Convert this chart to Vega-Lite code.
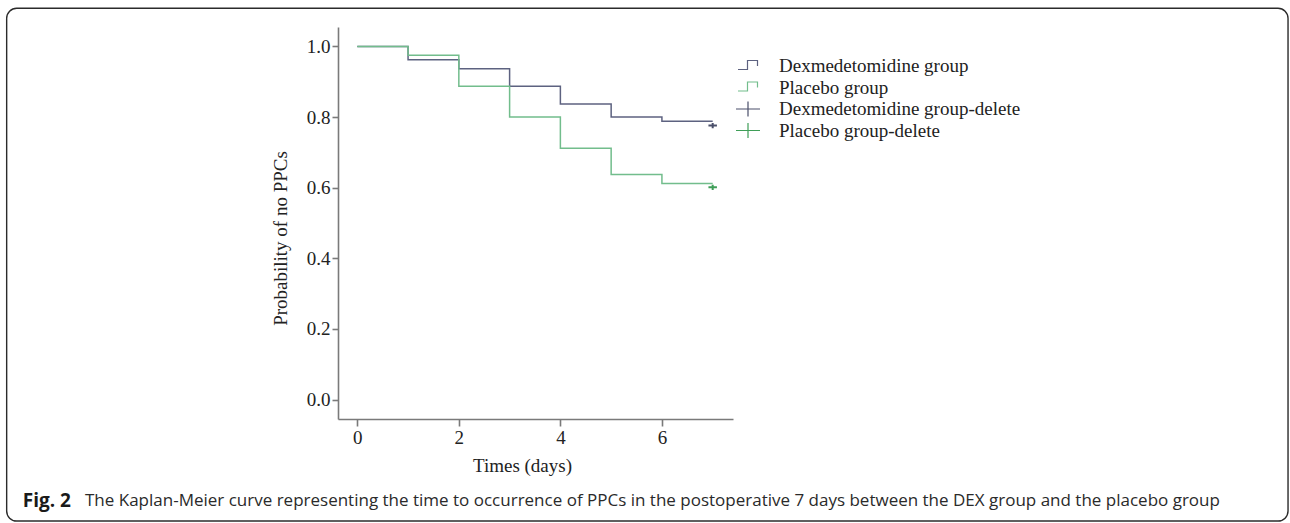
{
  "$schema": "https://vega.github.io/schema/vega-lite/v6.json",
  "width": 395,
  "height": 392,
  "autosize": "none",
  "padding": {"left": 338, "top": 27, "right": 557, "bottom": 104},
  "background": "white",
  "config": {
    "view": {"stroke": null},
    "font": "Liberation Serif",
    "legend": {
      "title": null, "orient": "none", "legendX": 399, "legendY": 28,
      "symbolSize": 400, "symbolStrokeWidth": 1.2, "symbolFillColor": "transparent",
      "labelFont": "Liberation Serif", "labelFontSize": 19, "labelColor": "#222", "labelLimit": 400,
      "labelOffset": 20, "rowPadding": 0.5, "padding": 0
    }
  },
  "datasets": {
    "km": [
      {"series": "Dexmedetomidine group", "time": 0, "surv": 1.0},
      {"series": "Dexmedetomidine group", "time": 1, "surv": 0.962},
      {"series": "Dexmedetomidine group", "time": 2, "surv": 0.937},
      {"series": "Dexmedetomidine group", "time": 3, "surv": 0.887},
      {"series": "Dexmedetomidine group", "time": 4, "surv": 0.837},
      {"series": "Dexmedetomidine group", "time": 5, "surv": 0.8},
      {"series": "Dexmedetomidine group", "time": 6, "surv": 0.788},
      {"series": "Dexmedetomidine group", "time": 7, "surv": 0.788},
      {"series": "Placebo group", "time": 0, "surv": 1.0},
      {"series": "Placebo group", "time": 1, "surv": 0.975},
      {"series": "Placebo group", "time": 2, "surv": 0.887},
      {"series": "Placebo group", "time": 3, "surv": 0.8},
      {"series": "Placebo group", "time": 4, "surv": 0.712},
      {"series": "Placebo group", "time": 5, "surv": 0.637},
      {"series": "Placebo group", "time": 6, "surv": 0.612},
      {"series": "Placebo group", "time": 7, "surv": 0.612}
    ],
    "censor": [
      {"series": "Dexmedetomidine group-delete", "time": 7, "surv": 0.776},
      {"series": "Placebo group-delete", "time": 7, "surv": 0.601}
    ]
  },
  "layer": [
    {
      "data": {"values": [{}]},
      "mark": {"type": "rect", "fill": null, "stroke": "#2b2b2b", "strokeWidth": 1.4, "cornerRadius": 10, "clip": false},
      "encoding": {
        "x": {"datum": -6.906, "type": "quantitative", "scale": {"domain": [-0.38, 7.4], "nice": false, "zero": false}},
        "x2": {"datum": 18.332},
        "y": {"datum": 1.108, "type": "quantitative", "scale": {"domain": [-0.055, 1.055], "nice": false, "zero": false}},
        "y2": {"datum": -0.344}
      }
    },
    {
      "data": {"name": "km"},
      "mark": {"type": "line", "interpolate": "step-after", "strokeWidth": 1.5},
      "encoding": {
        "x": {
          "field": "time", "type": "quantitative",
          "scale": {"domain": [-0.38, 7.4], "nice": false, "zero": false},
          "axis": {
            "values": [0, 2, 4, 6], "format": "d", "grid": false,
            "title": "Times (days)",
            "titleFont": "Liberation Serif", "titleFontSize": 19, "titleFontWeight": "normal", "titleColor": "#222",
            "titleX": 184, "titleY": 52, "titleBaseline": "alphabetic", "titleAlign": "center",
            "labelFont": "Liberation Serif", "labelFontSize": 19, "labelColor": "#222", "labelPadding": 2,
            "domainColor": "#7a7a7a", "domainWidth": 1.6, "tickColor": "#7a7a7a", "tickWidth": 1.6, "tickSize": 7
          }
        },
        "y": {
          "field": "surv", "type": "quantitative",
          "scale": {"domain": [-0.055, 1.055], "nice": false, "zero": false},
          "axis": {
            "values": [0, 0.2, 0.4, 0.6, 0.8, 1.0], "format": ".1f", "grid": false,
            "title": "Probability of no PPCs",
            "titleFont": "Liberation Serif", "titleFontSize": 19, "titleFontWeight": "normal", "titleColor": "#222",
            "titleX": -58, "titleY": 211, "titleAngle": -90, "titleBaseline": "middle", "titleAlign": "center",
            "labelFont": "Liberation Serif", "labelFontSize": 19, "labelColor": "#222", "labelPadding": 2,
            "domainColor": "#7a7a7a", "domainWidth": 1.6, "tickColor": "#7a7a7a", "tickWidth": 1.6, "tickSize": 6
          }
        },
        "color": {
          "field": "series", "type": "nominal",
          "scale": {
            "domain": ["Dexmedetomidine group", "Placebo group", "Dexmedetomidine group-delete", "Placebo group-delete"],
            "range": ["#5d6280", "#72bd8c", "#4a4f6a", "#3f9e58"]
          }
        }
      }
    },
    {
      "data": {"name": "censor"},
      "mark": {"type": "point", "filled": false, "strokeWidth": 2, "size": 50, "opacity": 1},
      "encoding": {
        "x": {"field": "time", "type": "quantitative"},
        "y": {"field": "surv", "type": "quantitative"},
        "color": {"field": "series", "type": "nominal"},
        "shape": {
          "field": "series", "type": "nominal",
          "scale": {
            "domain": ["Dexmedetomidine group", "Placebo group", "Dexmedetomidine group-delete", "Placebo group-delete"],
            "range": ["M-1,0.35H-0.05V-0.55H0.95V0", "M-1,0.35H-0.05V-0.55H0.95V0", "M-1.2,0H1.2M0,-0.75V0.75", "M-1.2,0H1.2M0,-0.75V0.75"]
          }
        }
      }
    },
    {
      "data": {"values": [{}]},
      "mark": {"type": "text", "text": "Fig. 2", "font": "Open Sans", "fontSize": 19, "fontWeight": "bold", "color": "#1a1a1a", "align": "left", "baseline": "middle"},
      "encoding": {
        "x": {"datum": -6.59, "type": "quantitative"},
        "y": {"datum": -0.287, "type": "quantitative"}
      }
    },
    {
      "data": {"values": [{}]},
      "mark": {"type": "text", "text": "The Kaplan-Meier curve representing the time to occurrence of PPCs in the postoperative 7 days between the DEX group and the placebo group", "font": "Open Sans", "fontSize": 17, "color": "#2a2a2a", "align": "left", "baseline": "middle"},
      "encoding": {
        "x": {"datum": -5.363, "type": "quantitative"},
        "y": {"datum": -0.287, "type": "quantitative"}
      }
    }
  ]
}
